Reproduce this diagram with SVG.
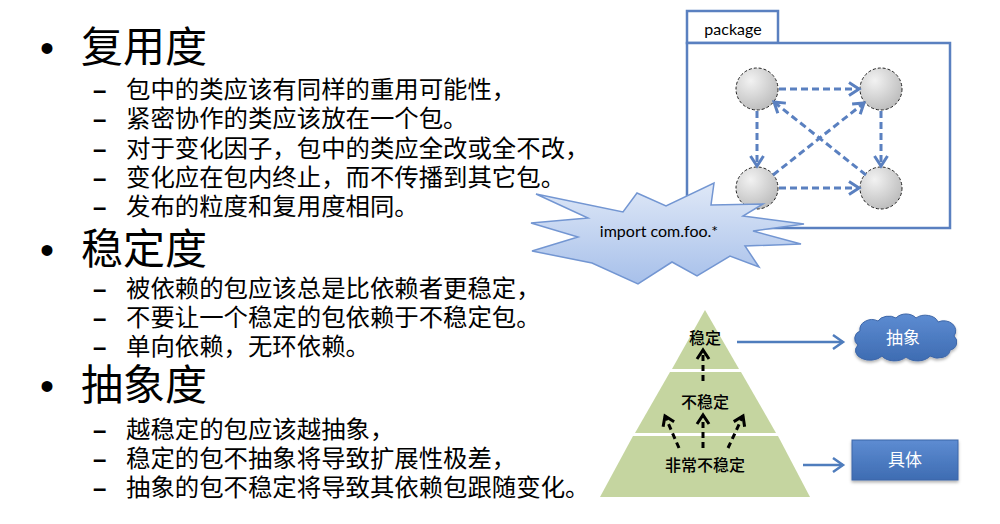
<svg xmlns="http://www.w3.org/2000/svg" width="1000" height="524" viewBox="0 0 1000 524">
<style>
.h{font-family:"Liberation Serif","Noto Sans CJK SC",serif;font-size:42px;fill:#000}
.s{font-family:"Liberation Serif","Noto Sans CJK SC",serif;font-size:24.4px;fill:#000}
.d{font-family:"Liberation Sans",sans-serif;font-size:24px;font-weight:bold;fill:#000}
.b{font-family:"Liberation Sans",sans-serif;font-size:40px;fill:#000}
.lat{font-family:Lato,"Liberation Sans",sans-serif;fill:#000}
.pl{font-family:"Noto Sans CJK SC",sans-serif;font-size:16px;font-weight:500;fill:#000;text-anchor:middle}
.wl{font-family:"Noto Sans CJK SC",sans-serif;font-size:17px;fill:#fff;text-anchor:middle}
.box{fill:#fff;stroke:#5a80c0;stroke-width:2.5}
.node{fill:url(#gray);stroke:#222;stroke-width:1;stroke-dasharray:3,2}
.bd{fill:none;stroke:#5a80c0;stroke-width:3;stroke-dasharray:7,4}
.kd{fill:none;stroke:#000;stroke-width:3;stroke-dasharray:6,4}
.bl{fill:none;stroke:#4f7dbd;stroke-width:2.5}
</style>
<defs>
<radialGradient id="gray" cx="0.35" cy="0.3" r="0.8">
<stop offset="0" stop-color="#f2f2f2"/>
<stop offset="1" stop-color="#b8b8b8"/>
</radialGradient>
<linearGradient id="burst" x1="0" y1="0" x2="0" y2="1">
<stop offset="0" stop-color="#dfe8f7"/>
<stop offset="1" stop-color="#a7c0ea"/>
</linearGradient>
<linearGradient id="blue" x1="0" y1="0" x2="0" y2="1">
<stop offset="0" stop-color="#5d8cd2"/>
<stop offset="1" stop-color="#3e6cb2"/>
</linearGradient>
<filter id="sh" x="-20%" y="-20%" width="140%" height="160%">
<feDropShadow dx="0" dy="2" stdDeviation="1.5" flood-color="#000" flood-opacity="0.3"/>
</filter>
<marker id="ab" markerUnits="userSpaceOnUse" markerWidth="16" markerHeight="16" refX="13" refY="8" orient="auto">
<path d="M3,1.5 L13,8 L3,14.5" fill="none" stroke="#5a80c0" stroke-width="3"/>
</marker>
<marker id="ak" markerUnits="userSpaceOnUse" markerWidth="16" markerHeight="16" refX="13" refY="8" orient="auto">
<path d="M4,2 L13,8 L4,14" fill="none" stroke="#000" stroke-width="3"/>
</marker>
<marker id="al" markerUnits="userSpaceOnUse" markerWidth="16" markerHeight="18" refX="13" refY="9" orient="auto">
<path d="M3,2 L13,9 L3,16" fill="none" stroke="#4f7dbd" stroke-width="2.5"/>
</marker>
</defs>

<g id="text-reuse">
<text class="b" x="40" y="62">•</text>
<text class="h" x="81" y="62">复用度</text>
<text class="d" x="93" y="98">–</text><text class="s" x="126" y="98">包中的类应该有同样的重用可能性，</text>
<text class="d" x="93" y="127">–</text><text class="s" x="126" y="127">紧密协作的类应该放在一个包。</text>
<text class="d" x="93" y="157">–</text><text class="s" x="126" y="157">对于变化因子，包中的类应全改或全不改，</text>
<text class="d" x="93" y="186">–</text><text class="s" x="126" y="186">变化应在包内终止，而不传播到其它包。</text>
<text class="d" x="93" y="215">–</text><text class="s" x="126" y="215">发布的粒度和复用度相同。</text>
</g>
<g id="text-stability">
<text class="b" x="40" y="264">•</text>
<text class="h" x="81" y="264">稳定度</text>
<text class="d" x="93" y="297">–</text><text class="s" x="126" y="297">被依赖的包应该总是比依赖者更稳定，</text>
<text class="d" x="93" y="326">–</text><text class="s" x="126" y="326">不要让一个稳定的包依赖于不稳定包。</text>
<text class="d" x="93" y="355">–</text><text class="s" x="126" y="355">单向依赖，无环依赖。</text>
</g>
<g id="text-abstract">
<text class="b" x="40" y="400">•</text>
<text class="h" x="81" y="400">抽象度</text>
<text class="d" x="93" y="438">–</text><text class="s" x="126" y="438">越稳定的包应该越抽象，</text>
<text class="d" x="93" y="467">–</text><text class="s" x="126" y="467">稳定的包不抽象将导致扩展性极差，</text>
<text class="d" x="93" y="496">–</text><text class="s" x="126" y="496">抽象的包不稳定将导致其依赖包跟随变化。</text>
</g>

<g id="package">
<rect class="box" x="687" y="11" width="91" height="32"/>
<rect class="box" x="687" y="43" width="263" height="185"/>
<text class="lat" x="733" y="35" font-size="16" text-anchor="middle">package</text>
</g>
<g id="class-tl"><circle class="node" cx="757" cy="89" r="21"/></g>
<g id="class-tr"><circle class="node" cx="881" cy="89" r="21"/></g>
<g id="class-bl"><circle class="node" cx="757" cy="188" r="21"/></g>
<g id="class-br"><circle class="node" cx="881" cy="188" r="21"/></g>
<g id="package-connectors">
<line class="bd" x1="779" y1="89" x2="859" y2="89" marker-end="url(#ab)"/>
<line class="bd" x1="779" y1="188" x2="859" y2="188" marker-end="url(#ab)"/>
<line class="bd" x1="757" y1="111" x2="757" y2="166" marker-end="url(#ab)"/>
<line class="bd" x1="881" y1="111" x2="881" y2="166" marker-end="url(#ab)"/>
<line class="bd" x1="773" y1="175" x2="864" y2="103" marker-end="url(#ab)"/>
<line class="bd" x1="866" y1="175" x2="774" y2="102" marker-end="url(#ab)"/>
</g>

<g id="burst">
<polygon points="536,194 623,212 637,193 666,206 714,183 711,205 763,204 743,216 804,224 753,231 801,244 745,246 759,267 730,256 697,276 672,262 638,284 592,263 532,251 578,237 531,223 588,218" fill="url(#burst)" stroke="#7396d2" stroke-width="1.5" stroke-linejoin="miter"/>
<text class="lat" x="659" y="237" font-size="16" text-anchor="middle">import com.foo.*</text>
</g>

<g id="pyramid">
<polygon points="705,310 739,369 672,369" fill="#c5d5a0"/>
<polygon points="741,372 776,433 635,433 670,372" fill="#c5d5a0"/>
<polygon points="778,436 810,497 600,497 633,436" fill="#c5d5a0"/>
<text class="pl" x="705" y="344">稳定</text>
<text class="pl" x="705" y="408">不稳定</text>
<text class="pl" x="705" y="471">非常不稳定</text>
</g>
<g id="pyramid-arrows">
<line class="kd" x1="703" y1="381" x2="703" y2="350" marker-end="url(#ak)"/>
<line class="kd" x1="703" y1="448" x2="703" y2="415" marker-end="url(#ak)"/>
<line class="kd" x1="679" y1="448" x2="665" y2="416" marker-end="url(#ak)"/>
<line class="kd" x1="728" y1="448" x2="743" y2="416" marker-end="url(#ak)"/>
</g>

<g id="abstract">
<path d="M858,345 a8,8 0 0 1 2,-14 a12,10 0 0 1 18,-10 a12,9 0 0 1 18,-3 a12,9 0 0 1 20,0 a13,9 0 0 1 22,4 a12,10 0 0 1 16,14 a8,8 0 0 1 -4,14 a12,8 0 0 1 -20,6 a14,9 0 0 1 -24,1 a14,9 0 0 1 -24,-1 a12,8 0 0 1 -24,-11 Z" fill="url(#blue)" stroke="#3d66a8" stroke-width="1" filter="url(#sh)"/>
<text class="wl" x="903" y="344">抽象</text>
</g>
<g id="concrete">
<rect x="852" y="440" width="106" height="40" fill="url(#blue)" stroke="#3d66a8" stroke-width="1" filter="url(#sh)"/>
<text class="wl" x="905" y="466" font-size="18">具体</text>
</g>
<g id="connectors">
<line class="bl" x1="737" y1="342" x2="843" y2="342" marker-end="url(#al)"/>
<line class="bl" x1="803" y1="465" x2="843" y2="465" marker-end="url(#al)"/>
</g>
</svg>
